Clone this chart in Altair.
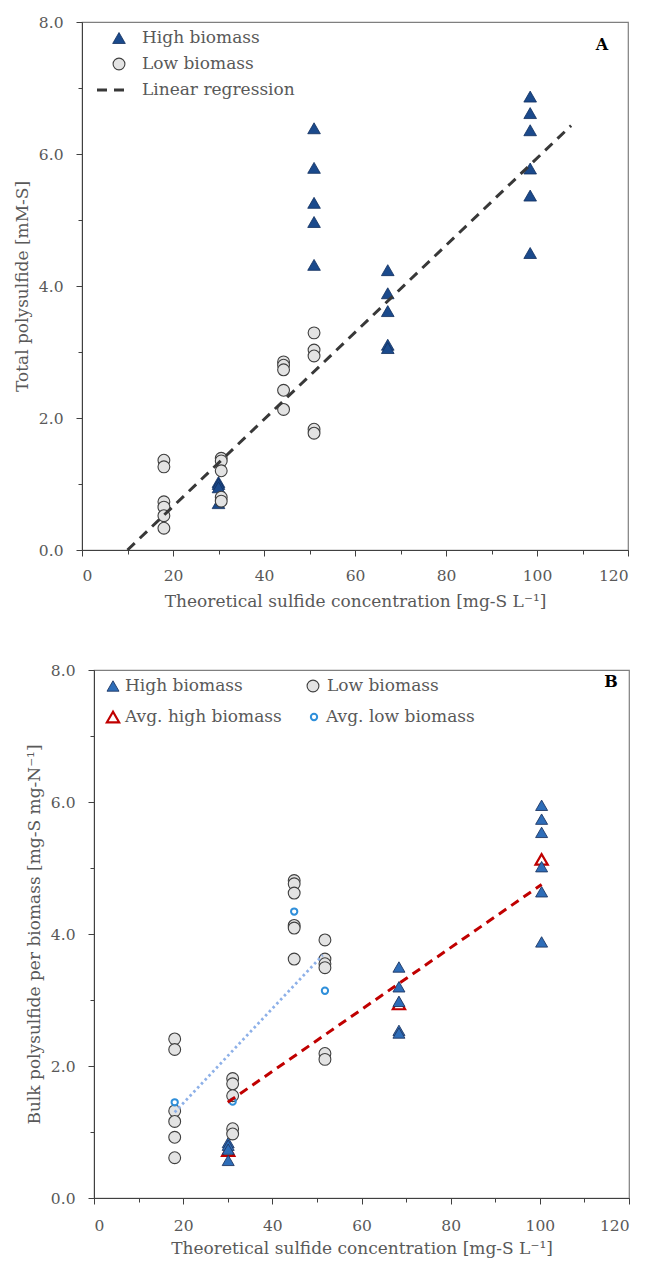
import altair as alt
import pandas as pd

# ---------------- Panel A data ----------------
a_high_x = [30, 30, 30, 30, 51, 51, 51, 51, 51, 67.2, 67.2, 67.2, 67.2, 67.2,
            98.5, 98.5, 98.5, 98.5, 98.5, 98.5]
a_high_y = [1.03, 1.00, 0.95, 0.71, 6.39, 5.79, 5.26, 4.97, 4.32, 4.24, 3.89, 3.62, 3.11, 3.06,
            6.87, 6.62, 6.36, 5.78, 5.37, 4.50]
a_low_x = [18, 18, 18, 18, 18, 18, 30.6, 30.6, 30.6, 30.6, 30.6,
           44.3, 44.3, 44.3, 44.3, 44.3, 51, 51, 51, 51, 51]
a_low_y = [1.36, 1.26, 0.73, 0.65, 0.52, 0.33, 1.39, 1.35, 1.20, 0.80, 0.74,
           2.85, 2.80, 2.73, 2.42, 2.13, 3.29, 3.03, 2.94, 1.83, 1.77]
a_reg_x = [10, 107.5]
a_reg_y = [0.0, 6.43]

# ---------------- Panel B data ----------------
b_high_x = [30.1, 30.1, 30.1, 30.1, 68.4, 68.4, 68.4, 68.4, 68.4,
            100.4, 100.4, 100.4, 100.4, 100.4, 100.4]
b_high_y = [0.84, 0.80, 0.74, 0.57, 3.50, 3.20, 2.98, 2.54, 2.50,
            5.95, 5.74, 5.54, 5.02, 4.64, 3.88]
b_low_x = [18.1] * 6 + [31.1] * 5 + [44.9] * 6 + [51.8] * 6
b_low_y = [2.41, 2.25, 1.32, 1.16, 0.92, 0.61,
           1.81, 1.73, 1.55, 1.05, 0.97,
           4.81, 4.76, 4.62, 4.13, 4.09, 3.62,
           3.91, 3.62, 3.55, 3.49, 2.19, 2.10]
b_avg_high_x = [30.1, 68.4, 100.4]
b_avg_high_y = [0.72, 2.94, 5.13]
b_avg_low_x = [18.1, 31.1, 44.9, 51.8]
b_avg_low_y = [1.45, 1.46, 4.34, 3.14]
b_red_x = [30.0, 100.4]
b_red_y = [1.45, 4.75]
b_blue_x = [18.1, 51.3]
b_blue_y = [1.30, 3.68]

x_title = "Theoretical sulfide concentration [mg-S L\u207b\u00b9]"
ya_title = "Total polysulfide [mM-S]"
yb_title = "Bulk polysulfide per biomass [mg-S mg-N\u207b\u00b9]"

FONT = "DejaVu Serif"
GREY = "#595959"
AXC = "#404040"
FS = 17      # titles / legend
LFS = 15.5   # tick labels

def df(x, y):
    return pd.DataFrame({"x": x, "y": y})

def xaxis(lp, tp):
    return alt.Axis(values=list(range(0, 121, 10)),
                    labelExpr="datum.value % 20 == 0 ? datum.label : ''",
                    tickSize={"condition": {"test": "datum.value % 20 == 0", "value": 6}, "value": 4},
                    title=x_title, format="d", grid=False,
                    labelFont=FONT, titleFont=FONT, labelFontSize=LFS, titleFontSize=FS,
                    labelColor=GREY, titleColor=GREY, titleFontWeight="normal",
                    domainColor=AXC, tickColor=AXC, labelPadding=lp, titlePadding=tp)

def yaxis(title):
    return alt.Axis(values=[0, 1, 2, 3, 4, 5, 6, 7, 8],
                    labelExpr="datum.value % 2 == 0 ? format(datum.value, '.1f') : ''",
                    tickSize={"condition": {"test": "datum.value % 2 == 0", "value": 6}, "value": 4},
                    title=title, grid=False,
                    labelFont=FONT, titleFont=FONT, labelFontSize=LFS, titleFontSize=FS,
                    labelColor=GREY, titleColor=GREY, titleFontWeight="normal",
                    domainColor=AXC, tickColor=AXC, labelPadding=13, titlePadding=7)

def enc(axis_y_title=None, first=False, lp=12, tp=10):
    if first:
        return dict(x=alt.X("x:Q", scale=alt.Scale(domain=[0, 120], nice=False), axis=xaxis(lp, tp)),
                    y=alt.Y("y:Q", scale=alt.Scale(domain=[0, 8], nice=False), axis=yaxis(axis_y_title)))
    return dict(x=alt.X("x:Q"), y=alt.Y("y:Q"))

one = pd.DataFrame({"k": [0]})

def legend_sym(x, y, **kw):
    return alt.Chart(one).mark_point(**kw).encode(x=alt.value(x), y=alt.value(y))

def legend_txt(x, y, t):
    return alt.Chart(pd.DataFrame({"t": [t]})).mark_text(
        align="left", baseline="middle", font=FONT, fontSize=FS, color=GREY
    ).encode(x=alt.value(x), y=alt.value(y), text="t:N")

def spacer(w):
    return alt.Chart(one).mark_point(opacity=0, size=1).properties(
        width=w, height=1, view=alt.ViewBackground(stroke="transparent"))

# ---------------- Panel A ----------------
A_HIGH = dict(shape="triangle-up", filled=True, size=160, fill="#1B4A8C", stroke="#102F5E",
              strokeWidth=0.8, opacity=1)
A_LOW = dict(shape="circle", filled=True, size=140, fill="#E3E3E3", stroke="#3F3F3F",
             strokeWidth=1.1, opacity=1)

a1 = alt.Chart(df(a_high_x, a_high_y)).mark_point(**A_HIGH).encode(**enc(ya_title, True, 12, 10))
a2 = alt.Chart(df(a_low_x, a_low_y)).mark_point(**A_LOW).encode(**enc())
a3 = alt.Chart(df(a_reg_x, a_reg_y)).mark_line(color="#383838", strokeDash=[10, 7], strokeWidth=3).encode(**enc())
aL = [
    legend_sym(37, 16, **A_HIGH), legend_txt(60, 16, "High biomass"),
    legend_sym(37, 42, **A_LOW), legend_txt(60, 42, "Low biomass"),
    alt.Chart(one).mark_rule(color="#383838", strokeDash=[10, 7], strokeWidth=3).encode(
        x=alt.value(15), x2=alt.value(48), y=alt.value(68)),
    legend_txt(60, 68, "Linear regression"),
]
aLab = alt.Chart(pd.DataFrame({"t": ["A"]})).mark_text(
    font=FONT, fontSize=16, fontWeight="bold", color="#000000", align="center", baseline="middle"
).encode(x=alt.value(520), y=alt.value(23), text="t:N")

panelA = alt.layer(a1, a2, a3, *aL, aLab).properties(
    width=546, height=528, view=alt.ViewBackground(stroke="#7F7F7F", strokeWidth=1.2))

# ---------------- Panel B ----------------
B_HIGH = dict(shape="triangle-up", filled=True, size=144, fill="#2E6DB8", stroke="#1F3864",
              strokeWidth=0.9, opacity=1)
B_LOW = dict(shape="circle", filled=True, size=140, fill="#E3E3E3", stroke="#3F3F3F",
             strokeWidth=1.1, opacity=1)
B_AVGH = dict(shape="triangle-up", filled=False, size=150, stroke="#C00000", strokeWidth=2.2,
              opacity=1, fillOpacity=0)
B_AVGL = dict(shape="circle", filled=False, size=40, stroke="#2F8FDA", strokeWidth=2,
              opacity=1, fillOpacity=0)

b0 = alt.Chart(df(b_avg_high_x, b_avg_high_y)).mark_point(**B_AVGH).encode(**enc(yb_title, True, 14, 7))
b1 = alt.Chart(df(b_high_x, b_high_y)).mark_point(**B_HIGH).encode(**enc())
b2 = alt.Chart(df(b_low_x, b_low_y)).mark_point(**B_LOW).encode(**enc())
b3 = alt.Chart(df(b_avg_low_x, b_avg_low_y)).mark_point(**B_AVGL).encode(**enc())
b4 = alt.Chart(df(b_blue_x, b_blue_y)).mark_line(color="#8DB0E8", strokeDash=[2.5, 3], strokeWidth=2.8).encode(**enc())
b5 = alt.Chart(df(b_red_x, b_red_y)).mark_line(color="#C00000", strokeDash=[9, 6], strokeWidth=3).encode(**enc())
bL = [
    legend_sym(19, 16, **B_HIGH), legend_txt(31, 16, "High biomass"),
    legend_sym(219, 16, **B_LOW), legend_txt(233, 16, "Low biomass"),
    legend_sym(19, 47, **B_AVGH), legend_txt(31, 47, "Avg. high biomass"),
    legend_sym(220, 47, **B_AVGL), legend_txt(232, 47, "Avg. low biomass"),
]
bLab = alt.Chart(pd.DataFrame({"t": ["B"]})).mark_text(
    font=FONT, fontSize=16, fontWeight="bold", color="#000000", align="center", baseline="middle"
).encode(x=alt.value(517), y=alt.value(12), text="t:N")

panelB = alt.layer(b0, b1, b2, b3, b4, b5, *bL, bLab).properties(
    width=535, height=528, view=alt.ViewBackground(stroke="#7F7F7F", strokeWidth=1.2))

chart = alt.vconcat(
    alt.hconcat(spacer(1), panelA, spacing=0),
    alt.hconcat(spacer(13), panelB, spacing=0),
    spacing=51,
).properties(
    padding={"left": 1, "top": 6, "right": 0, "bottom": 0}
).configure_view(stroke="transparent")

chart.save("out.html", embed_options={"renderer": "svg", "actions": False})
